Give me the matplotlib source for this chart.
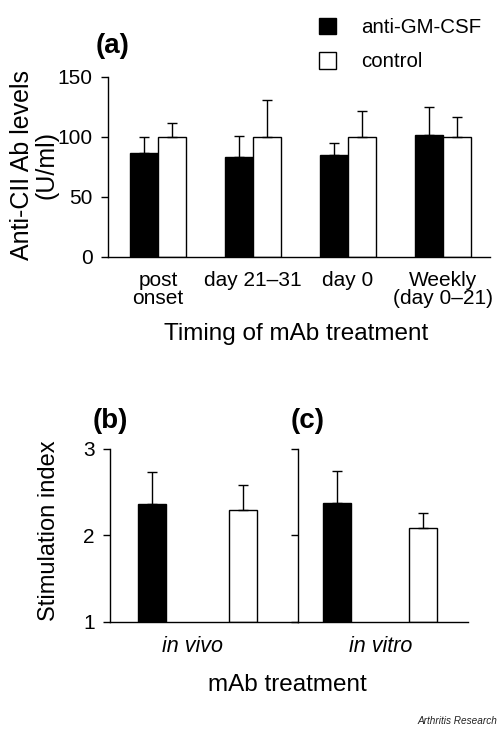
import matplotlib
matplotlib.use("Agg")
import matplotlib.pyplot as plt
from matplotlib.patches import Patch
import numpy as np

plt.rcParams['font.family'] = ['Liberation Sans', 'DejaVu Sans']

# ---- data ----
timing_labels = ["post\nonset", "day 21\u201331", "day 0", "Weekly\n(day 0\u201321)"]
anti_gm_mean = [87, 83, 85, 102]
anti_gm_err = [13, 18, 10, 23]
control_mean = [100, 100, 100, 100]
control_err = [12, 31, 22, 17]

stim_labels = ["in vivo", "in vitro"]
stim_anti_mean = [2.36, 2.37]
stim_anti_err = [0.37, 0.37]
stim_ctrl_mean = [2.29, 2.08]
stim_ctrl_err = [0.29, 0.18]

series_names = ["anti-GM-CSF", "control"]

W, H = 500, 729
fig = plt.figure(figsize=(W / 100, H / 100), dpi=100)


def fax(x0, y0, x1, y1):
    return fig.add_axes([x0 / W, 1 - y1 / H, (x1 - x0) / W, (y1 - y0) / H])


FS = 15
LFS = 17.5
cap = 3.6

# ---- panel (a) ----
axa = fax(108, 77, 490, 257)
x = np.arange(len(timing_labels))
bw = 0.295
axa.bar(x - bw / 2, anti_gm_mean, bw, color='black', edgecolor='black', linewidth=1)
axa.bar(x + bw / 2, control_mean, bw, color='white', edgecolor='black', linewidth=1)
axa.errorbar(x - bw / 2, anti_gm_mean, yerr=[np.zeros(4), anti_gm_err], fmt='none',
             ecolor='black', elinewidth=1, capsize=cap, capthick=1)
axa.errorbar(x + bw / 2, control_mean, yerr=[np.zeros(4), control_err], fmt='none',
             ecolor='black', elinewidth=1, capsize=cap, capthick=1)
axa.set_xlim(-0.53, 3.5)
axa.set_ylim(0, 150)
axa.set_yticks([0, 50, 100, 150])
axa.set_xticks(x)
axa.set_xticklabels(timing_labels, fontsize=FS, linespacing=0.95)
axa.tick_params(axis='x', length=0, pad=10)
axa.tick_params(axis='y', length=5, width=1, direction='out', labelsize=FS, pad=6)
for s in ['top', 'right']:
    axa.spines[s].set_visible(False)
for s in ['left', 'bottom']:
    axa.spines[s].set_linewidth(1)
fig.text(296 / W, 1 - 334 / H, "Timing of mAb treatment", ha='center', va='center', fontsize=LFS)
fig.text(34 / W, 1 - 165 / H, "Anti-CII Ab levels\n(U/ml)", ha='center', va='center',
         rotation=90, fontsize=18, linespacing=1.05, multialignment='center')
fig.text(96 / W, 1 - 46 / H, "(a)", ha='left', va='center', fontsize=20, fontweight='bold')

handles = [Patch(facecolor='black', edgecolor='black'),
           Patch(facecolor='white', edgecolor='black')]
fig.legend(handles, series_names, loc='upper left', bbox_to_anchor=(319 / W, 1 - 18 / H),
           frameon=False, fontsize=14.8, handlelength=0.85, handleheight=0.85,
           handletextpad=1.2, labelspacing=0.72, borderpad=0, borderaxespad=0)

# ---- panels (b) and (c) ----
axb = fax(110, 449, 298, 621.7)
axc = fax(298, 449, 468, 621.7)
pos = np.array([0, 1])

axb.bar(pos[0], stim_anti_mean[0] - 1, 0.31, bottom=1, color='black', edgecolor='black', linewidth=1)
axb.bar(pos[1], stim_ctrl_mean[0] - 1, 0.31, bottom=1, color='white', edgecolor='black', linewidth=1)
axb.errorbar(pos, [stim_anti_mean[0], stim_ctrl_mean[0]],
             yerr=[[0, 0], [stim_anti_err[0], stim_ctrl_err[0]]], fmt='none',
             ecolor='black', elinewidth=1, capsize=cap, capthick=1)
axb.set_xlim(-0.46, 1.60)

axc.bar(pos[0], stim_anti_mean[1] - 1, 0.33, bottom=1, color='black', edgecolor='black', linewidth=1)
axc.bar(pos[1], stim_ctrl_mean[1] - 1, 0.33, bottom=1, color='white', edgecolor='black', linewidth=1)
axc.errorbar(pos, [stim_anti_mean[1], stim_ctrl_mean[1]],
             yerr=[[0, 0], [stim_anti_err[1], stim_ctrl_err[1]]], fmt='none',
             ecolor='black', elinewidth=1, capsize=cap, capthick=1)
axc.set_xlim(-0.456, 1.53)

for ax in (axb, axc):
    ax.set_ylim(1, 3)
    ax.set_yticks([1, 2, 3])
    ax.set_xticks([])
    for s in ['top', 'right']:
        ax.spines[s].set_visible(False)
    for s in ['left', 'bottom']:
        ax.spines[s].set_linewidth(1)
    ax.tick_params(axis='y', length=5, width=1, direction='out', labelsize=FS, pad=6)
axc.tick_params(axis='y', labelleft=False)

fig.text(193 / W, 1 - 647 / H, stim_labels[0], ha='center', va='center', fontsize=15.5, style='italic')
fig.text(381 / W, 1 - 647 / H, stim_labels[1], ha='center', va='center', fontsize=15.5, style='italic')
fig.text(287 / W, 1 - 685 / H, "mAb treatment", ha='center', va='center', fontsize=LFS)
fig.text(49 / W, 1 - 531 / H, "Stimulation index", ha='center', va='center', rotation=90, fontsize=17)
fig.text(93 / W, 1 - 421 / H, "(b)", ha='left', va='center', fontsize=20, fontweight='bold')
fig.text(291 / W, 1 - 421 / H, "(c)", ha='left', va='center', fontsize=20, fontweight='bold')
fig.text(497 / W, 1 - 721 / H, "Arthritis Research", ha='right', va='center', fontsize=7.2,
         style='italic', color='#222222')

fig.savefig("out.png", dpi=100)
